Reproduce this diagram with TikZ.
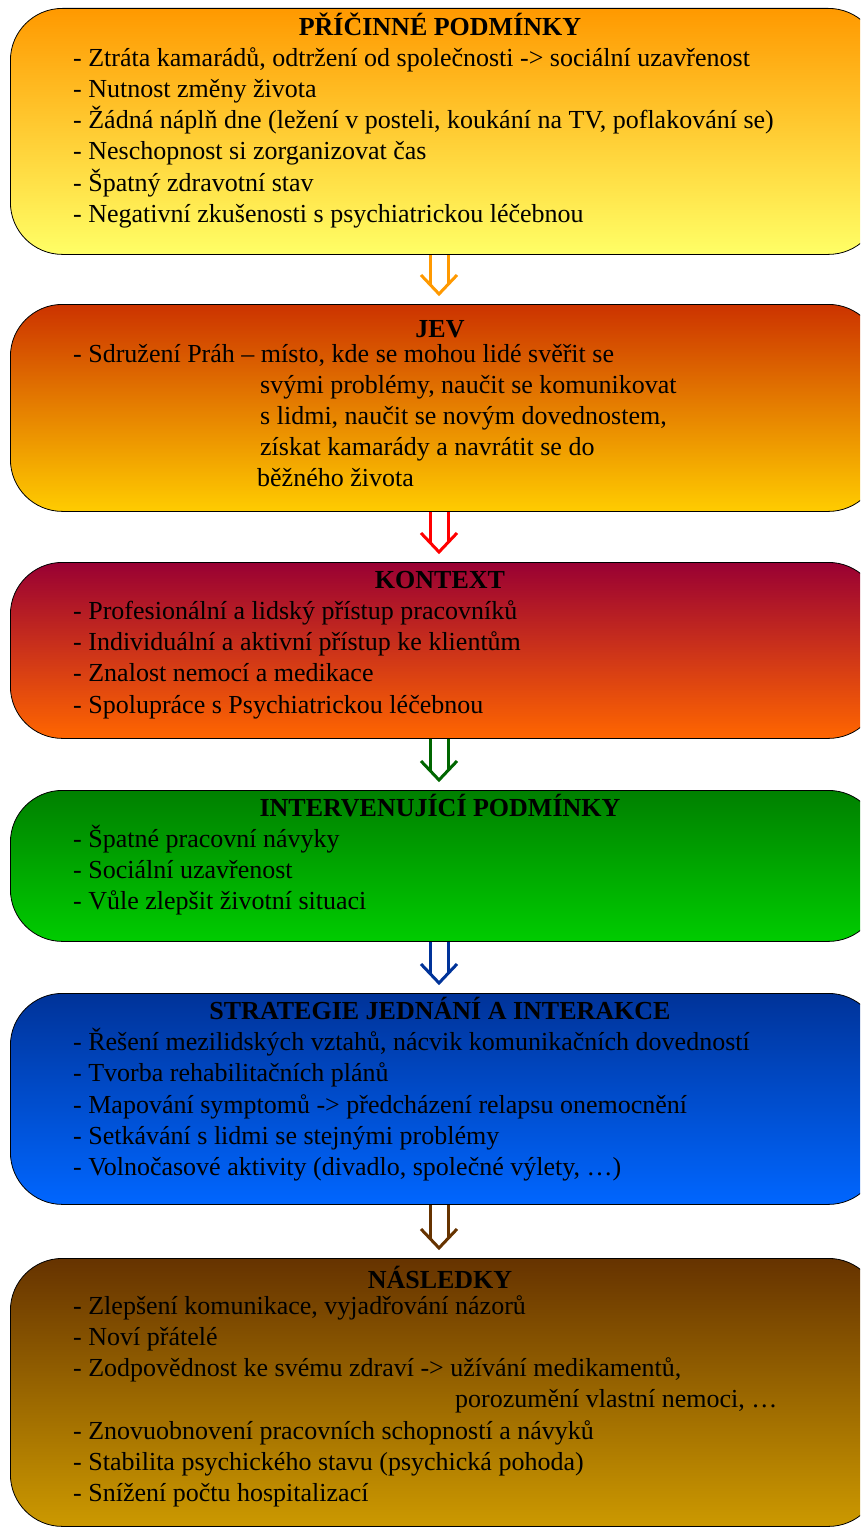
\documentclass[tikz,border=0pt]{standalone}
\usepackage{fontspec}
\setmainfont{Liberation Serif}
\usetikzlibrary{calc}
\tikzset{
  box/.style={draw=black, line width=0.8pt, rounded corners=52pt, inner sep=0pt, minimum width=870pt, anchor=north west},
  ttl/.style={font=\fontsize{26}{30}\selectfont\bfseries, anchor=mid, inner sep=0pt, yshift=-4pt},
  txt/.style={font=\fontsize{26}{30}\selectfont, anchor=mid west, inner sep=0pt, yshift=-4pt},
  flowline/.style={line width=3pt, line cap=butt, line join=miter},
}
\newcommand{\flowarrow}[3]{%
  \path (#1.south -| 439,0) coordinate (#1-s) (#2.north -| 439,0) coordinate (#2-n);
  \draw[flowline, #3] ($(#1-s)+(-9,0)$) -- ($(#2-n)+(-9,-19)$);
  \draw[flowline, #3] ($(#1-s)+(9,0)$) -- ($(#2-n)+(9,-19)$);
  \draw[flowline, #3] ($(#2-n)+(-18,-29)$) -- ($(#2-n)+(0,-10)$) -- ($(#2-n)+(18,-29)$);
}
\definecolor{c1t}{HTML}{FF9900}\definecolor{c1b}{HTML}{FFFF66}
\definecolor{c2t}{HTML}{CC3300}\definecolor{c2b}{HTML}{FFCC00}
\definecolor{c3t}{HTML}{990033}\definecolor{c3b}{HTML}{FF6600}
\definecolor{c4t}{HTML}{008000}\definecolor{c4b}{HTML}{00CC00}
\definecolor{c5t}{HTML}{003399}\definecolor{c5b}{HTML}{0066FF}
\definecolor{c6t}{HTML}{663300}\definecolor{c6b}{HTML}{CC9900}
\definecolor{a1}{HTML}{FF9900}\definecolor{a2}{HTML}{FF0000}
\definecolor{a3}{HTML}{006600}\definecolor{a4}{HTML}{003399}
\definecolor{a5}{HTML}{663300}
\begin{document}
\begin{tikzpicture}[x=1pt,y=-1pt]
\useasboundingbox (0,0) rectangle (860,1528);
\clip (0,0) rectangle (860,1528);
% boxes
\node[box, minimum height=246pt, top color=c1t, bottom color=c1b] (b1) at (10,8) {};
\node[box, minimum height=207pt, top color=c2t, bottom color=c2b] (b2) at (10,304) {};
\node[box, minimum height=176pt, top color=c3t, bottom color=c3b] (b3) at (10,562) {};
\node[box, minimum height=151pt, top color=c4t, bottom color=c4b] (b4) at (10,790) {};
\node[box, minimum height=211pt, top color=c5t, bottom color=c5b] (b5) at (10,993) {};
\node[box, minimum height=268pt, top color=c6t, bottom color=c6b] (b6) at (10,1258) {};
% arrows
\flowarrow{b1}{b2}{a1}
\flowarrow{b2}{b3}{a2}
\flowarrow{b3}{b4}{a3}
\flowarrow{b4}{b5}{a4}
\flowarrow{b5}{b6}{a5}
% box 1
\node[ttl] (h1) at (440,29) {PŘÍČINNÉ PODMÍNKY};
\node[txt] (l11) at (73,60) {- Ztráta kamarádů, odtržení od společnosti -> sociální uzavřenost};
\node[txt] (l12) at (73,91) {- Nutnost změny života};
\node[txt] (l13) at (73,122) {- Žádná náplň dne (ležení v posteli, koukání na TV, poflakování se)};
\node[txt] (l14) at (73,153) {- Neschopnost si zorganizovat čas};
\node[txt] (l15) at (73,185) {- Špatný zdravotní stav};
\node[txt] (l16) at (73,216) {- Negativní zkušenosti s psychiatrickou léčebnou};
% box 2
\node[ttl] (h2) at (440,331) {JEV};
\node[txt] (l21) at (73,356) {- Sdružení Práh – místo, kde se mohou lidé svěřit se};
\node[txt] (l22) at (260,387) {svými problémy, naučit se komunikovat};
\node[txt] (l23) at (260,418) {s lidmi, naučit se novým dovednostem,};
\node[txt] (l24) at (260,449) {získat kamarády a navrátit se do};
\node[txt] (l25) at (257,480) {běžného života};
% box 3
\node[ttl] (h3) at (440,582) {KONTEXT};
\node[txt] (l31) at (73,613) {- Profesionální a lidský přístup pracovníků};
\node[txt] (l32) at (73,644) {- Individuální a aktivní přístup ke klientům};
\node[txt] (l33) at (73,675) {- Znalost nemocí a medikace};
\node[txt] (l34) at (73,707) {- Spolupráce s Psychiatrickou léčebnou};
% box 4
\node[ttl] (h4) at (440,810) {INTERVENUJÍCÍ PODMÍNKY};
\node[txt] (l41) at (73,841) {- Špatné pracovní návyky};
\node[txt] (l42) at (73,872) {- Sociální uzavřenost};
\node[txt] (l43) at (73,903) {- Vůle zlepšit životní situaci};
% box 5
\node[ttl] (h5) at (440,1013) {STRATEGIE JEDNÁNÍ A INTERAKCE};
\node[txt] (l51) at (73,1044) {- Řešení mezilidských vztahů, nácvik komunikačních dovedností};
\node[txt] (l52) at (73,1075) {- Tvorba rehabilitačních plánů};
\node[txt] (l53) at (73,1107) {- Mapování symptomů -> předcházení relapsu onemocnění};
\node[txt] (l54) at (73,1138) {- Setkávání s lidmi se stejnými problémy};
\node[txt] (l55) at (73,1169) {- Volnočasové aktivity (divadlo, společné výlety, …)};
% box 6
\node[ttl] (h6) at (440,1282) {NÁSLEDKY};
\node[txt] (l61) at (73,1308) {- Zlepšení komunikace, vyjadřování názorů};
\node[txt] (l62) at (73,1339) {- Noví přátelé};
\node[txt] (l63) at (73,1370) {- Zodpovědnost ke svému zdraví -> užívání medikamentů,};
\node[txt] (l64) at (455,1401) {porozumění vlastní nemoci, …};
\node[txt] (l65) at (73,1433) {- Znovuobnovení pracovních schopností a návyků};
\node[txt] (l66) at (73,1464) {- Stabilita psychického stavu (psychická pohoda)};
\node[txt] (l67) at (73,1495) {- Snížení počtu hospitalizací};
\end{tikzpicture}
\end{document}
